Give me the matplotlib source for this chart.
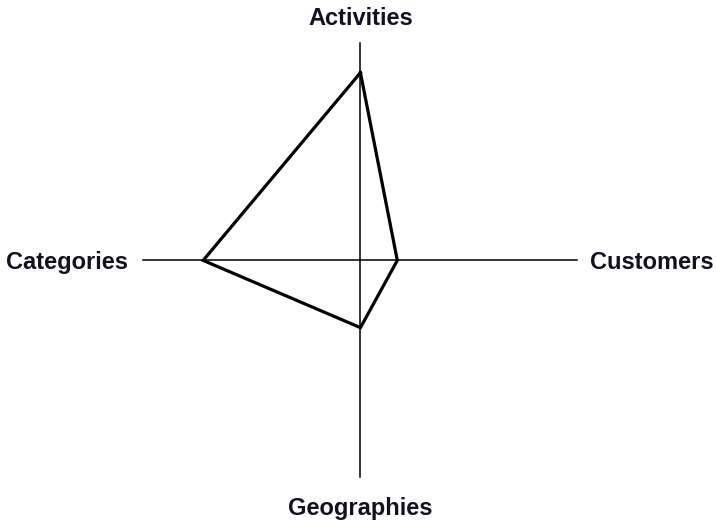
import numpy as np
import matplotlib
matplotlib.use("Agg")
import matplotlib.pyplot as plt

categories = ["Activities", "Customers", "Geographies", "Categories"]
values = [86.5, 17, 31, 72.5]
r_max = 100

plt.rcParams['font.family'] = ['Liberation Sans', 'DejaVu Sans']

fig = plt.figure(figsize=(7.16, 5.25), dpi=100)
ax = fig.add_axes([0.2004, 0.0905, 0.606, 0.827], projection='polar')
ax.set_theta_offset(np.pi / 2)
ax.set_theta_direction(-1)
ax.set_ylim(0, r_max)
ax.grid(False)
ax.set_xticks([])
ax.set_yticks([])
ax.spines['polar'].set_visible(False)
ax.patch.set_alpha(0)

angles = np.linspace(0, 2 * np.pi, len(categories), endpoint=False)

for a in angles:
    ax.plot([a, a], [0, r_max], color='black', lw=1.1, clip_on=False)

ang_c = np.concatenate([angles, angles[:1]])
val_c = values + values[:1]
ax.plot(ang_c, val_c, color='black', lw=2.3, solid_joinstyle='miter', clip_on=False)

label_cfg = [
    (1.128, 'center'),
    (1.058, 'left'),
    (1.13, 'center'),
    (1.071, 'right'),
]
for a, lab, (rf, ha) in zip(angles, categories, label_cfg):
    ax.text(a, rf * r_max, lab, ha=ha, va='center_baseline', fontsize=17,
            fontweight='bold', color='#111122', clip_on=False)

fig.savefig("out.png", dpi=100)
